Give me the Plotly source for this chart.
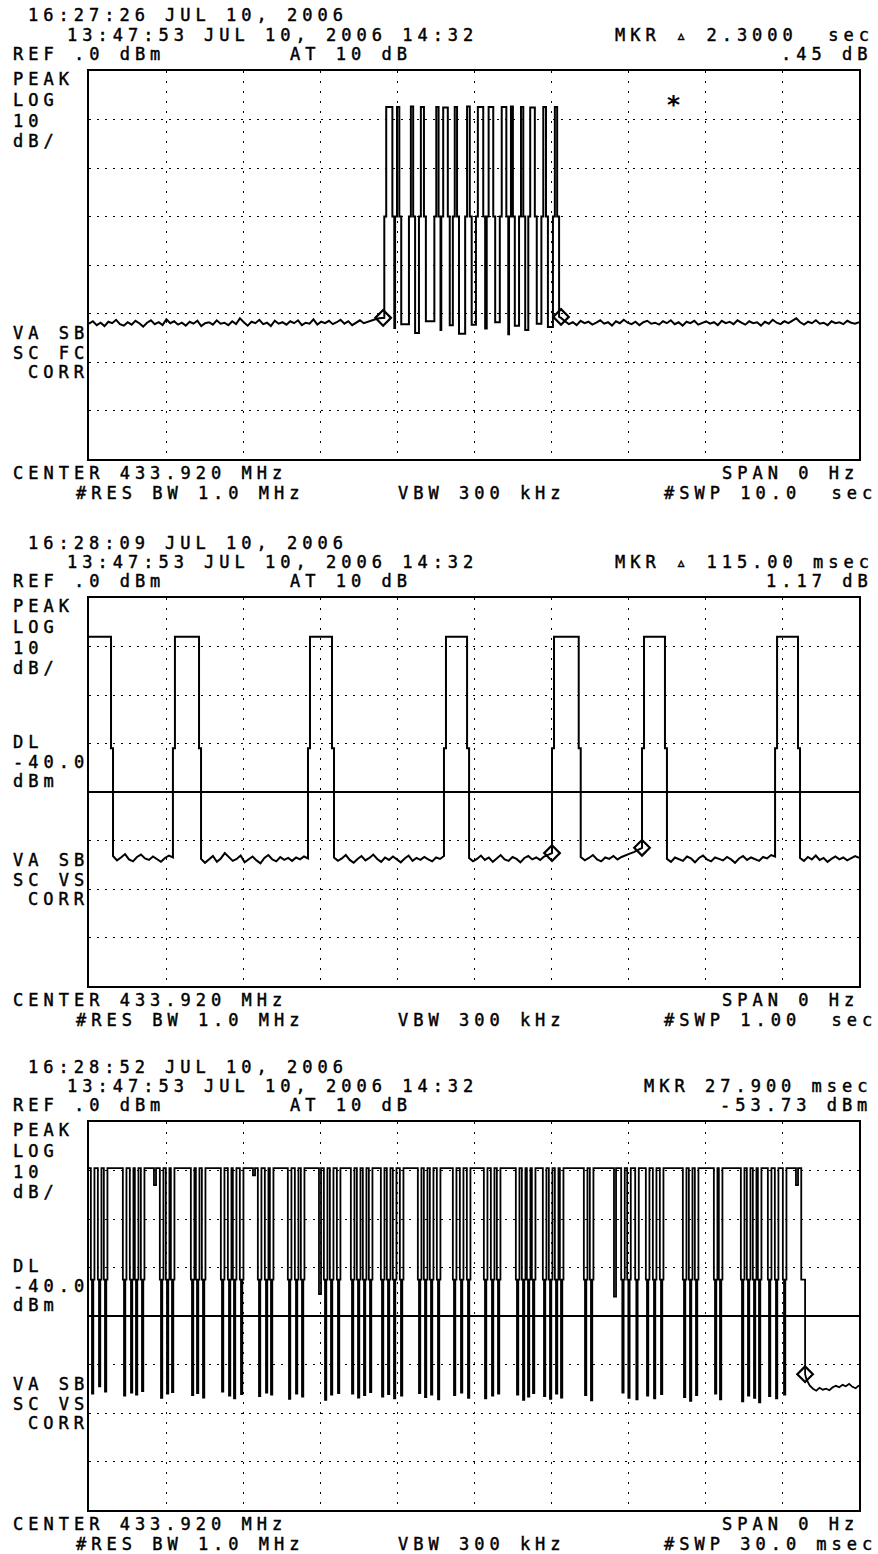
import numpy as np
import plotly.graph_objects as go

W, H = 878, 1554
BOX_L, BOX_R = 89, 859
PANEL_TOP = [71, 598, 1122]
BOX_H = 388

# ---------------- Panel 1 : SWP 10 s (x in s) ----------------
p1_pulse_start = [3.835, 3.975, 4.155, 4.285, 4.485, 4.575, 4.725, 4.885, 5.025, 5.165, 5.335, 5.455, 5.585, 5.705, 5.875, 6.025]
p1_pulse_end = [3.94, 4.03, 4.21, 4.35, 4.54, 4.66, 4.78, 4.945, 5.12, 5.25, 5.42, 5.505, 5.64, 5.79, 5.935, 6.08]
p1_pulse_top = [-7.4, -7.4, -7.3, -7.4, -7.4, -7.5, -7.4, -7.3, -7.4, -7.4, -7.4, -7.3, -7.4, -7.5, -7.4, -7.4]
p1_gap_floor = [-53.0, -52.2, -54.0, -51.6, -53.4, -52.4, -54.2, -52.3, -53.1, -51.8, -54.3, -52.5, -53.4, -52.1, -52.8, -50.7]
p1_shoulder = -30.0
p1_step = 0.025
p1_noise_left = [-52.1, -51.6, -52.4, -51.9, -52.6, -51.7, -52.0, -51.3, -52.2, -52.5, -51.8, -52.3, -51.5, -52.0, -52.7,
                 -51.9, -51.4, -52.2, -51.8, -52.4, -51.2, -52.0, -51.6, -52.3, -51.9, -52.5, -51.7, -52.1, -51.5, -52.6,
                 -52.0, -51.8, -52.3, -51.4, -52.1, -51.9, -52.4, -51.6, -52.2, -51.0, -51.8, -52.5, -51.7, -52.0, -51.3,
                 -52.2, -51.9, -52.6, -51.5, -52.1, -51.8, -52.3, -51.6, -52.0, -51.4, -52.4, -51.9, -52.1, -51.2, -52.3,
                 -51.7, -52.0, -51.5, -52.2, -51.8, -51.3, -52.1, -51.6, -52.4, -51.9, -51.4, -52.0, -51.7, -51.5, -51.2,
                 -51.0, -50.9]
p1_noise_right = [-50.9, -51.6, -52.2, -51.8, -52.4, -51.5, -52.0, -51.7, -52.3, -51.9, -51.4, -52.1, -51.8, -52.5, -51.6,
                  -52.0, -51.3, -51.9, -52.2, -51.7, -52.4, -51.8, -51.5, -52.1, -51.9, -52.3, -51.6, -52.0, -51.4, -52.2,
                  -51.8, -52.5, -51.7, -52.0, -51.5, -52.3, -51.9, -51.6, -52.1, -51.8, -52.4, -51.5, -52.0, -51.7, -52.2,
                  -51.4, -51.9, -52.3, -51.6, -52.0, -51.8, -52.5, -51.7, -52.1, -51.3, -51.9, -52.2, -51.6, -52.0, -51.5,
                  -51.0, -51.8, -52.3, -51.7, -52.0, -51.4, -52.1, -51.9, -52.4, -51.6, -52.0, -51.8, -52.2, -51.5, -51.9,
                  -52.1, -51.8]
p1_noise_left_span = [0.0, 3.82]
p1_noise_right_span = [6.13, 10.0]
p1_marker_x = [3.82, 6.13]
p1_marker_y = [-50.9, -50.7]

# ---------------- Panel 2 : SWP 1 s (x in ms) ----------------
p2_pulse_start = [0.0, 109.0, 284.4, 461.0, 601.3, 718.2, 891.0]
p2_pulse_end = [28.6, 142.9, 315.6, 491.0, 636.0, 748.0, 920.8]
p2_top = -8.0
p2_shoulder = -31.0
p2_step = 2.6
p2_gaps = [
    [-53.2, -54.1, -53.5, -52.8, -53.9, -54.3, -53.4, -52.9, -53.7, -54.0, -53.3, -53.8, -54.4, -53.6, -53.1, -53.5],
    [-53.8, -54.6, -53.9, -53.2, -54.4, -53.7, -52.6, -53.5, -54.2, -53.8, -53.1, -54.5, -53.9, -53.3, -54.1, -54.7,
     -53.6, -53.0, -53.9, -54.3, -53.4, -54.0, -53.6, -54.2, -53.5, -53.9, -53.3, -53.7],
    [-53.5, -54.2, -53.7, -53.0, -54.0, -54.6, -53.8, -53.2, -54.1, -53.6, -52.9, -53.8, -54.4, -53.5, -54.0, -53.3,
     -53.9, -54.5, -53.7, -53.1, -54.2, -53.6, -54.0, -53.4, -53.9, -54.3, -53.5, -53.8, -53.2],
    [-53.6, -54.3, -53.8, -53.1, -54.0, -53.5, -54.4, -53.7, -53.0, -53.9, -54.2, -53.4, -53.8, -54.5, -53.6, -53.2,
     -53.9, -53.5, -54.0, -53.3, -53.0, -52.6],
    [-53.4, -54.1, -53.6, -53.0, -53.9, -54.3, -53.5, -53.8, -53.2, -53.9, -53.4, -53.0, -52.7, -52.4, -52.0, -51.5],
    [-53.8, -54.4, -53.5, -53.9, -54.2, -53.3, -53.7, -54.5, -53.6, -53.1, -53.9, -54.3, -53.5, -53.8, -54.1, -53.4,
     -53.9, -54.6, -53.7, -53.2, -54.0, -53.5, -53.8, -54.2, -53.4, -53.7, -53.0, -53.3],
    [-53.6, -54.2, -53.4, -53.9, -53.1, -54.0, -53.6, -54.4, -53.8, -53.3, -53.9, -53.5, -54.1, -53.7, -53.2, -53.6],
]
p2_sweep_end = 1000.0
p2_marker_x = [601.3, 718.2]
p2_marker_y = [-52.6, -51.5]
display_line = -40.0

# ---------------- Panel 3 : SWP 30 ms (x in ms) ----------------
# position (ms) of each drop to the noise floor
p3_dip_x = [0.117, 0.390, 0.623,
            1.364, 1.636, 1.831, 2.065,
            2.805, 3.039, 3.234,
            4.013, 4.208, 4.442,
            5.182, 5.455, 5.649, 5.922,
            6.623, 6.896, 7.091,
            7.792, 8.065, 8.299,
            9.195, 9.429, 9.701,
            10.247, 10.481, 10.714, 10.948,
            11.416, 11.649, 11.883, 12.156,
            12.857, 13.091, 13.325, 13.597,
            14.221, 14.494, 14.766,
            15.429, 15.701, 15.935,
            16.675, 16.909, 17.104, 17.299,
            17.727, 17.961, 18.195, 18.390,
            19.325, 19.558,
            20.779, 21.013, 21.325,
            21.740, 22.013, 22.286,
            23.182, 23.416, 23.649,
            24.390, 24.584,
            25.442, 25.675, 25.909, 26.104,
            26.494, 26.766, 27.078]
p3_dip_floor = [-56.0, -54.5, -55.6,
                -56.4, -55.8, -56.2, -55.5,
                -56.9, -56.0, -55.7,
                -56.3, -55.9, -56.8,
                -55.6, -56.4, -57.0, -56.1,
                -56.5, -55.8, -56.2,
                -57.1, -56.0, -56.6,
                -57.3, -56.2, -55.9,
                -56.0, -56.8, -56.3, -55.7,
                -56.6, -56.1, -57.0, -56.4,
                -55.9, -56.7, -56.2, -57.2,
                -56.3, -55.8, -56.9,
                -57.0, -56.4, -56.0,
                -56.2, -57.3, -56.6, -55.9,
                -56.5, -57.1, -56.0, -56.8,
                -56.3, -57.4,
                -55.8, -56.9, -57.2,
                -56.4, -57.0, -56.1,
                -56.7, -57.5, -56.3,
                -56.0, -57.2,
                -57.6, -56.4, -56.9, -57.8,
                -56.5, -57.0, -56.2]
# partial (shallow) notches in the "on" stretches
p3_notch_x = [2.571, 6.429, 9.000, 20.494, 27.584]
p3_notch_level = [-13.0, -11.0, -35.5, -36.0, -13.0]
p3_top = -9.5
p3_shoulder = -32.5
p3_step = 0.045
p3_dip_width = 0.05
p3_notch_width = 0.08
p3_drop_x = 27.75
p3_marker_x = [27.9]
p3_marker_y = [-52.0]
p3_tail = [-53.0, -54.3, -55.0, -55.4, -54.8, -55.2, -55.0, -55.3, -54.7, -54.4, -54.7, -54.2, -54.5, -54.0,
           -54.6, -54.9, -54.3]
p3_tail_span = [27.95, 30.0]


# ---------------- trace builders ----------------
def rise(xs, ys, s, base, sh, top, d):
    xs += [s, s, s + d, s + d]
    ys += [base, sh, sh, top]


def fall(xs, ys, e, top, sh, base, d):
    xs += [e, e, e + d, e + d]
    ys += [top, sh, sh, base]


def build_p1():
    xs = list(np.linspace(p1_noise_left_span[0], p1_noise_left_span[1], len(p1_noise_left)))
    ys = list(p1_noise_left)
    base = ys[-1]
    for i, (s, e, t) in enumerate(zip(p1_pulse_start, p1_pulse_end, p1_pulse_top)):
        rise(xs, ys, s, base, p1_shoulder, t, p1_step)
        base = p1_gap_floor[i]
        fall(xs, ys, e, t, p1_shoulder, base, p1_step)
    xs += list(np.linspace(p1_noise_right_span[0], p1_noise_right_span[1], len(p1_noise_right)))
    ys += list(p1_noise_right)
    return xs, ys


def build_p2():
    xs, ys = [], []
    for i, (s, e) in enumerate(zip(p2_pulse_start, p2_pulse_end)):
        if i == 0:
            xs += [s]
            ys += [p2_top]
        else:
            rise(xs, ys, s, ys[-1], p2_shoulder, p2_top, p2_step)
        gap = p2_gaps[i]
        fall(xs, ys, e, p2_top, p2_shoulder, gap[0], p2_step)
        g_end = p2_pulse_start[i + 1] if i + 1 < len(p2_pulse_start) else p2_sweep_end
        xs += list(np.linspace(e + p2_step, g_end, len(gap)))
        ys += list(gap)
    return xs, ys


def build_p3():
    events = [(x, "dip", f) for x, f in zip(p3_dip_x, p3_dip_floor)]
    events += [(x, "notch", v) for x, v in zip(p3_notch_x, p3_notch_level)]
    events.sort(key=lambda t: t[0])
    xs, ys = [0.0], [p3_top]
    for x, kind, v in events:
        if kind == "dip":
            s = x - p3_step
            e = x + p3_dip_width
            fall(xs, ys, s, p3_top, p3_shoulder, v, p3_step)
            rise(xs, ys, e, v, p3_shoulder, p3_top, p3_step)
        else:
            a = x - p3_notch_width / 2
            b = x + p3_notch_width / 2
            xs += [a, a, b, b]
            ys += [p3_top, v, v, p3_top]
    xs += [p3_drop_x, p3_drop_x, p3_marker_x[0], p3_marker_x[0]]
    ys += [p3_top, p3_shoulder, p3_shoulder, p3_marker_y[0]]
    xs += list(np.linspace(p3_tail_span[0], p3_tail_span[1], len(p3_tail)))
    ys += list(p3_tail)
    return xs, ys


fig = go.Figure()
LINE = dict(color="black", width=2.0)
MK = dict(symbol="diamond-open", size=12, color="black", line=dict(color="black", width=2.2))

x1, y1 = build_p1()
fig.add_trace(go.Scatter(x=x1, y=y1, mode="lines", line=LINE, xaxis="x", yaxis="y"))
fig.add_trace(go.Scatter(x=p1_marker_x, y=p1_marker_y, mode="markers", marker=MK, xaxis="x", yaxis="y"))

x2, y2 = build_p2()
fig.add_trace(go.Scatter(x=[0, p2_sweep_end], y=[display_line, display_line], mode="lines",
                         line=dict(color="black", width=1.8), xaxis="x2", yaxis="y2"))
fig.add_trace(go.Scatter(x=x2, y=y2, mode="lines", line=LINE, xaxis="x2", yaxis="y2"))
fig.add_trace(go.Scatter(x=p2_marker_x, y=p2_marker_y, mode="markers", marker=MK, xaxis="x2", yaxis="y2"))

x3, y3 = build_p3()
fig.add_trace(go.Scatter(x=[0, 30], y=[display_line, display_line], mode="lines",
                         line=dict(color="black", width=1.8), xaxis="x3", yaxis="y3"))
fig.add_trace(go.Scatter(x=x3, y=y3, mode="lines", line=dict(color="black", width=1.8), xaxis="x3", yaxis="y3"))
fig.add_trace(go.Scatter(x=p3_marker_x, y=p3_marker_y, mode="markers", marker=MK, xaxis="x3", yaxis="y3"))

x_ranges = [[0, 10], [0, 1000], [0, 30]]
layout = dict(width=W, height=H, margin=dict(l=0, r=0, t=0, b=0), paper_bgcolor="white",
              plot_bgcolor="white", showlegend=False, hovermode=False)
for i in range(3):
    sfx = "" if i == 0 else str(i + 1)
    top = PANEL_TOP[i]
    bot = top + BOX_H
    layout["xaxis" + sfx] = dict(domain=[BOX_L / W, BOX_R / W], range=x_ranges[i],
                                 dtick=(x_ranges[i][1] - x_ranges[i][0]) / 10, anchor="y" + sfx,
                                 showticklabels=False, ticks="", showgrid=True, gridcolor="black",
                                 gridwidth=1, griddash="2px,8px", zeroline=False, showline=True,
                                 mirror=True, linecolor="black", linewidth=2, fixedrange=True)
    layout["yaxis" + sfx] = dict(domain=[1 - bot / H, 1 - top / H], range=[-80, 0], dtick=10,
                                 anchor="x" + sfx, showticklabels=False, ticks="", showgrid=True,
                                 gridcolor="black", gridwidth=1, griddash="2px,6px", zeroline=False,
                                 showline=True, mirror=True, linecolor="black", linewidth=2,
                                 fixedrange=True)
fig.update_layout(**layout)

FONT = dict(family="DejaVu Sans Mono", size=17, color="black")


def txt(x, y, s):
    s = s.replace(" ", "\u00a0")
    fig.add_annotation(x=(x - 2) / W, y=1 - y / H, xref="paper", yref="paper",
                       text='<span style="letter-spacing:5px;stroke:black;stroke-width:0.45px">' + s + "</span>",
                       showarrow=False, xanchor="left", yanchor="middle", font=FONT)


stamps = ["16:27:26 JUL 10, 2006", "16:28:09 JUL 10, 2006", "16:28:52 JUL 10, 2006"]
mkr_txt = ["MKR \u25b5 2.3000  sec", "MKR \u25b5 115.00 msec", "MKR 27.900 msec"]
mkr_x = [615, 615, 644]
mkr_val = [".45 dB", "1.17 dB", "-53.73 dBm"]
mkr_val_x = [781, 766, 720]
sc_txt = ["SC FC", "SC VS", "SC VS"]
swp_txt = ["#SWP 10.0  sec", "#SWP 1.00  sec", "#SWP 30.0 msec"]
offsets = [0, 527, 1051]

for i in range(3):
    o = offsets[i]
    txt(28, 15.5 + o, stamps[i])
    txt(67, 35 + o, "13:47:53 JUL 10, 2006 14:32")
    txt(mkr_x[i], 35 + o, mkr_txt[i])
    txt(13, 54 + o, "REF .0 dBm")
    txt(290, 54 + o, "AT 10 dB")
    txt(mkr_val_x[i], 54 + o, mkr_val[i])
    txt(13, 79 + o, "PEAK")
    txt(13, 100 + o, "LOG")
    txt(13, 120.5 + o, "10")
    txt(13, 141 + o, "dB/")
    if i > 0:
        txt(13, 215 + o, "DL")
        txt(13, 235 + o, "-40.0")
        txt(13, 254 + o, "dBm")
    txt(13, 333 + o, "VA SB")
    txt(13, 353 + o, sc_txt[i])
    txt(28, 372 + o, "CORR")
    txt(13, 473 + o, "CENTER 433.920 MHz")
    txt(722, 473 + o, "SPAN 0 Hz")
    txt(76, 493 + o, "#RES BW 1.0 MHz")
    txt(398, 493 + o, "VBW 300 kHz")
    txt(664, 493 + o, swp_txt[i])

fig.add_annotation(x=673 / W, y=1 - 105 / H, xref="paper", yref="paper", text="<b>*</b>",
                   showarrow=False, xanchor="center", yanchor="middle",
                   font=dict(family="DejaVu Sans Mono", size=25, color="black"))

fig.write_html("out.html", config={"displayModeBar": False},
               post_script="document.body.style.margin='0';")
